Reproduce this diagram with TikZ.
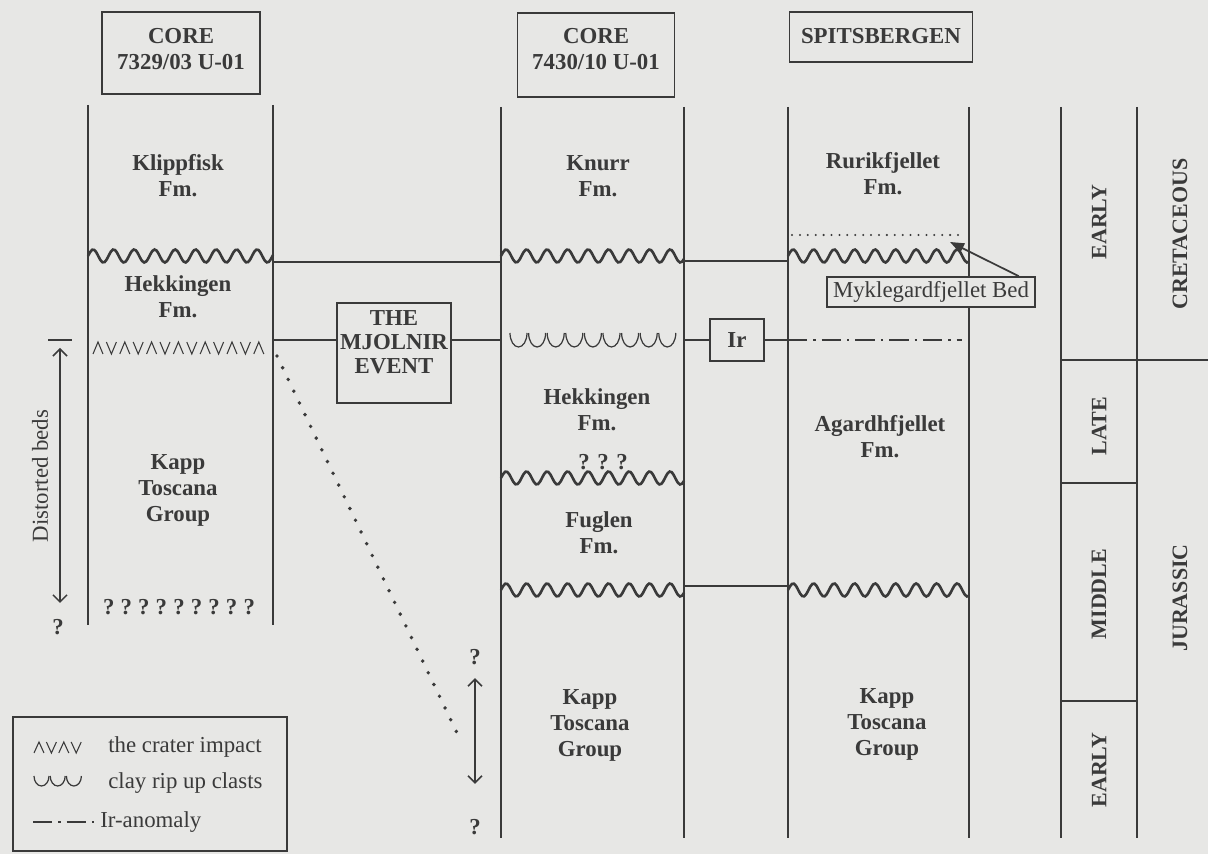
\documentclass[tikz,border=0pt]{standalone}
\usepackage{fontspec}
\setmainfont{Liberation Serif}
\usetikzlibrary{arrows.meta}
\definecolor{ink}{RGB}{58,58,58}
\definecolor{paper}{RGB}{231,231,229}

\begin{document}
\begin{tikzpicture}[x=0.02cm, y=-0.02cm,
    col/.style={ink, line width=1.5pt},
    link/.style={ink, line width=1pt},
    wave/.style={ink, line width=1.5pt},
    glyph/.style={ink, line width=0.6pt},
    fm/.style={text=ink, align=center, inner sep=0pt, font=\fontsize{13}{14.8}\selectfont\bfseries},
    txt/.style={text=ink, align=center, inner sep=0pt, font=\fontsize{13}{14.8}\selectfont},
    era/.style={text=ink, rotate=90, inner sep=0pt, font=\fontsize{12.5}{14}\selectfont\bfseries},
    corebox/.style={draw=ink, line width=1pt, fill=paper, inner sep=0pt},
    tag/.style={draw=ink, line width=0.9pt, fill=paper, text=ink, inner sep=0pt,
        font=\fontsize{13}{14.8}\selectfont},
    iranom/.style={ink, line width=1.7pt, dash pattern=on 11pt off 3.4pt on 1.4pt off 3.4pt},
    beds/.style={ink, line width=0.9pt, {Straight Barb[length=4pt,width=8pt]}-{Straight Barb[length=4pt,width=8pt]}}
]
    \useasboundingbox (0,0) rectangle (1208,854);
    \fill[paper] (0,0) rectangle (1208,854);

    % Column headers
    \node[corebox, minimum width=3.16cm, minimum height=1.64cm] (coreA) at (181,53) {};
    \node[fm] (coreAT) at (181,49) {CORE\\7329/03 U-01};
    \node[corebox, minimum width=3.14cm, minimum height=1.68cm] (coreB) at (596,55) {};
    \node[fm] (coreBT) at (596,49) {CORE\\7430/10 U-01};
    \node[corebox, minimum width=3.66cm, minimum height=1.0cm] (spits) at (881,37) {};
    \node[fm] (spitsT) at (881,36) {SPITSBERGEN};

    % Columns
    \draw[col] (88,105) -- (88,625);
    \draw[col] (273,105) -- (273,625);
    \draw[col] (501,107) -- (501,838);
    \draw[col] (684,107) -- (684,838);
    \draw[col] (788,107) -- (788,838);
    \draw[col] (969,107) -- (969,838);

    % Time scale
    \draw[col] (1061,107) -- (1061,838);
    \draw[col] (1137,107) -- (1137,838);
    \draw[link] (1061,360) -- (1208,360);
    \draw[link] (1061,483) -- (1137,483);
    \draw[link] (1061,701) -- (1137,701);
    \node[era] (earlyK) at (1099,222) {EARLY};
    \node[era] (lateJ) at (1099,426) {LATE};
    \node[era] (middleJ) at (1099,594) {MIDDLE};
    \node[era] (earlyJ) at (1099,770) {EARLY};
    \node[era] (cretac) at (1180,234) {CRETACEOUS};
    \node[era] (jurass) at (1180,598) {JURASSIC};

    % Unconformities
    \foreach \xa/\xb/\yc in {88/273/256, 501/684/256, 501/684/478, 501/684/590, 788/969/256, 788/969/590}
        \draw[wave] plot[domain=\xa:\xb, samples=90, smooth] (\x, {\yc-6.5*sin(17.56*(\x-\xa))});
    \draw[link] (273,262) -- (501,262);
    \draw[link] (684,261) -- (788,261);
    \draw[link] (684,586) -- (788,586);

    % Formations
    \node[fm] (klipp) at (178,176) {Klippfisk\\Fm.};
    \node[fm] (hekkA) at (178,297) {Hekkingen\\Fm.};
    \node[fm] (kappA) at (178,490) {Kapp\\Toscana\\Group};
    \node[fm] (quesA) at (179,607) {?\hspace{3.5pt}?\hspace{3.5pt}?\hspace{3.5pt}?\hspace{3.5pt}?\hspace{3.5pt}?\hspace{3.5pt}?\hspace{3.5pt}?\hspace{3.5pt}?};
    \node[fm] (knurr) at (598,176) {Knurr\\Fm.};
    \node[fm] (hekkB) at (597,410) {Hekkingen\\Fm.};
    \node[fm] (quesB) at (603,462) {? ? ?};
    \node[fm] (fuglen) at (599,533) {Fuglen\\Fm.};
    \node[fm] (kappB) at (590,725) {Kapp\\Toscana\\Group};
    \node[fm] (rurik) at (883,174) {Rurikfjellet\\Fm.};
    \node[fm] (agardh) at (880,437) {Agardhfjellet\\Fm.};
    \node[fm] (kappC) at (887,724) {Kapp\\Toscana\\Group};

    % Crater impact level
    \foreach \i in {0,2,...,12}
        \draw[glyph] ({93+13.4*\i},354) -- ++(5,-12) -- ++(5,12);
    \foreach \i in {1,3,...,11}
        \draw[glyph] ({93+13.4*\i},342) -- ++(5,12) -- ++(5,-12);

    % Clay rip up clasts
    \foreach \i in {0,...,8}
        \draw[glyph, line width=0.7pt] ({510+18.6*\i},333) arc[start angle=180, end angle=360, x radius=0.17cm, y radius=0.28cm];

    % Mjolnir event
    \node[corebox, minimum width=2.28cm, minimum height=2.0cm] (mjol) at (394,353) {};
    \node[fm, font=\fontsize{13}{13.8}\selectfont\bfseries] (mjolT) at (394,342) {THE\\MJOLNIR\\EVENT};
    \coordinate (impA) at (273,340);
    \coordinate (impB) at (501,340);
    \draw[link] (impA) -- (impA -| mjol.west);
    \draw[link] (impB -| mjol.east) -- (impB);
    \coordinate (dotA) at (277,356);
    \coordinate (dotB) at (458,735);
    \draw[ink, line width=2.2pt, line cap=round, dash pattern=on 0pt off 7.4pt] (dotA) -- (dotB);

    % Ir anomaly
    \node[tag, minimum width=1.08cm, minimum height=0.84cm, font=\fontsize{13}{14.8}\selectfont\bfseries] (ir) at (737,340) {Ir};
    \coordinate (irA) at (684,340);
    \coordinate (irB) at (788,340);
    \coordinate (irC) at (962,340);
    \draw[link] (irA) -- (ir);
    \draw[link] (ir) -- (irB);
    \draw[iranom] (irB) -- (irC);

    % Myklegardfjellet Bed
    \coordinate (bedA) at (792,235);
    \coordinate (bedB) at (962,235);
    \draw[ink, line width=1.3pt, line cap=round, dash pattern=on 0pt off 4.5pt] (bedA) -- (bedB);
    \node[tag, minimum width=4.16cm, minimum height=0.6cm] (myk) at (931,292) {Myklegardfjellet Bed};
    \coordinate (mykTip) at (950,242);
    \draw[link, -{Triangle[length=8pt,width=6pt]}] ([xshift=-0.34cm]myk.north east) -- (mykTip);

    % Distorted beds
    \coordinate (distTop) at (60,348);
    \coordinate (distBot) at (60,603);
    \draw[link] (48,340) -- (72,340);
    \draw[beds] (distTop) -- (distBot);
    \node[txt, rotate=90] (dist) at (40,476) {Distorted beds};
    \node[fm] (qA) at (58,627) {?};

    % Uncertain range, core 7430/10
    \node[fm] (qB) at (475,657) {?};
    \node[fm] (qC) at (475,827) {?};
    \draw[beds] ([yshift=-0.26cm]qB.south) -- ([yshift=0.7cm]qC.north);

    % Legend
    \draw[link] (13,717) rectangle (287,851);
    \foreach \i in {0,2}
        \draw[glyph] ({34+12.4*\i},753) -- ++(5,-11) -- ++(5,11);
    \foreach \i in {1,3}
        \draw[glyph] ({34+12.4*\i},742) -- ++(5,11) -- ++(5,-11);
    \node[txt, anchor=west] (legImp) at (108,747) {the crater impact};
    \foreach \i in {0,1,2}
        \draw[glyph, line width=0.7pt] ({34+16.2*\i},776) arc[start angle=180, end angle=360, x radius=0.15cm, y radius=0.2cm];
    \node[txt, anchor=west] (legClast) at (108,783) {clay rip up clasts};
    \coordinate (legIrA) at (33,822);
    \coordinate (legIrB) at (97,822);
    \draw[iranom] (legIrA) -- (legIrB);
    \node[txt, anchor=west] (legIr) at (100,822) {Ir-anomaly};
\end{tikzpicture}
\end{document}
